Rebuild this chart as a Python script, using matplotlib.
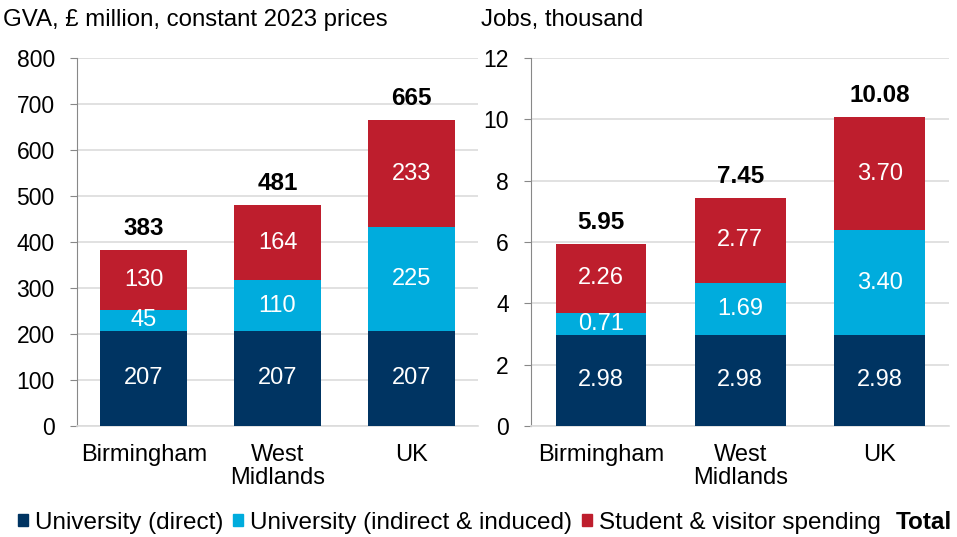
import matplotlib.pyplot as plt
from matplotlib.patches import Patch
import numpy as np

plt.rcParams['font.family'] = ['Liberation Sans', 'DejaVu Sans']

categories = ['Birmingham', 'West\nMidlands', 'UK']
series = ['University (direct)', 'University (indirect & induced)', 'Student & visitor spending']
colors = ['#003462', '#00ACDD', '#BE1E2D']

gva_direct = [207, 207, 207]
gva_indirect = [45, 110, 225]
gva_student = [130, 164, 233]
gva_total = [383, 481, 665]

jobs_direct = [2.98, 2.98, 2.98]
jobs_indirect = [0.71, 1.69, 3.40]
jobs_student = [2.26, 2.77, 3.70]
jobs_total = [5.95, 7.45, 10.08]

FS = 17


def stacked(ax, parts, totals, fmt, ymax, step, offset):
    x = np.arange(len(categories))
    bottom = np.zeros(len(categories))
    for vals, col in zip(parts, colors):
        ax.bar(x, vals, 0.65, bottom=bottom, color=col, zorder=3)
        for xi, b, v in zip(x, bottom, vals):
            ax.text(xi, b + v / 2, fmt.format(v), ha='center', va='center',
                    color='white', fontsize=FS, zorder=4)
        bottom = bottom + np.array(vals)
    for xi, t in zip(x, totals):
        ax.text(xi, t + offset, fmt.format(t), ha='center', va='bottom',
                fontsize=FS + 0.5, fontweight='bold')
    ax.set_xlim(-0.5, len(categories) - 0.5)
    ax.set_ylim(0, ymax)
    ax.set_yticks(np.arange(0, ymax + step / 2, step))
    ax.set_xticks(x)
    ax.set_xticklabels(categories, fontsize=FS, linespacing=1.05)
    ax.tick_params(axis='x', length=0, pad=13)
    ax.tick_params(axis='y', labelsize=FS - 0.5, length=5, color='#888888', pad=11)
    ax.grid(axis='y', color='#dcdcdc', linewidth=1.2, zorder=0)
    for s in ['top', 'right']:
        ax.spines[s].set_visible(False)
    ax.spines['left'].set_color('#888888')
    ax.spines['bottom'].set_color('#dcdcdc')
    ax.spines['bottom'].set_linewidth(1.2)


fig = plt.figure(figsize=(9.57, 5.37), dpi=100)
ax1 = fig.add_axes([0.0805, 0.2067, 0.419, 0.685])
ax2 = fig.add_axes([0.555, 0.2067, 0.437, 0.685])

stacked(ax1, [gva_direct, gva_indirect, gva_student], gva_total, '{:.0f}', 800, 100, 22)
stacked(ax2, [jobs_direct, jobs_indirect, jobs_student], jobs_total, '{:.2f}', 12, 2, 0.32)

fig.text(0.003, 0.962, 'GVA, £ million, constant 2023 prices', fontsize=FS + 0.3, va='center')
fig.text(0.503, 0.962, 'Jobs, thousand', fontsize=FS + 0.3, va='center')

handles = [Patch(color=c) for c in colors]
fig.legend(handles, series, loc='center left', bbox_to_anchor=(0.019, 0.027), ncol=3,
           frameon=False, fontsize=FS + 0.5, handlelength=0.4, handleheight=0.4,
           handletextpad=0.3, columnspacing=0.4, borderpad=0, borderaxespad=0)
fig.text(0.995, 0.027, 'Total', fontsize=FS + 0.5, fontweight='bold', ha='right', va='center')

fig.savefig('out.png', dpi=100)
